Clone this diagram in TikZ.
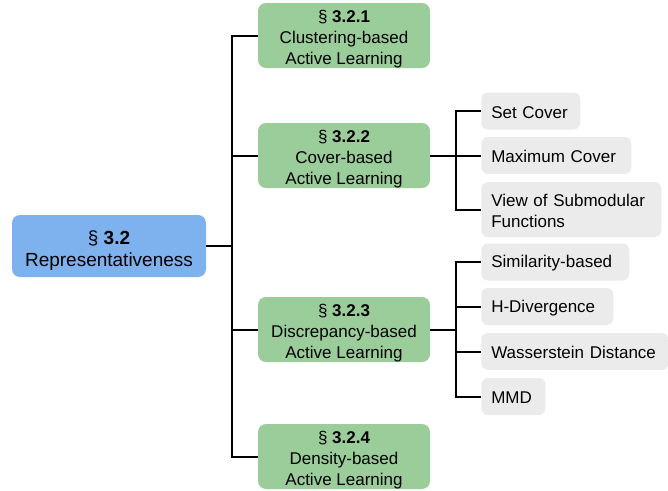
\documentclass[tikz,border=0pt]{standalone}
\usepackage{fontspec}
\setmainfont{Liberation Sans}
\definecolor{rootblue}{RGB}{126,178,238}
\definecolor{secgreen}{RGB}{154,205,154}
\definecolor{leafgray}{RGB}{235,235,235}
\newcommand{\gstrut}{\rule{0pt}{14pt}}
\newcommand{\rstrut}{\rule{0pt}{16.5pt}}
\newcommand{\lstrut}{\rule{0pt}{11pt}}
\begin{document}
\begin{tikzpicture}[x=0.75pt,y=-0.75pt,
  rootbox/.style={fill=rootblue, rounded corners=6pt, minimum width=145.5pt, minimum height=46.5pt,
    inner sep=0pt, align=center, font=\fontsize{14.25pt}{16.5pt}\selectfont},
  secbox/.style={fill=secgreen, rounded corners=6pt, minimum width=129pt, minimum height=48.75pt,
    inner sep=0pt, align=center, font=\fontsize{12.75pt}{15.75pt}\selectfont},
  leafbox/.style={fill=leafgray, rounded corners=5pt, anchor=west, minimum height=27.75pt,
    inner xsep=7.5pt, inner ysep=0pt, align=left, font=\fontsize{12.75pt}{15.75pt}\selectfont},
  conn/.style={draw=black, line width=1.5pt}
]
\useasboundingbox (0,0) rectangle (668,490);

\node[rootbox] (root) at (109,246) {\rstrut§ \textbf{3.2}\\Representativeness};

\node[secbox] (s1) at (344,35.5) {\gstrut§ \textbf{3.2.1}\\Clustering-based\\Active Learning};
\node[secbox] (s2) at (344,155.5) {\gstrut§ \textbf{3.2.2}\\Cover-based\\Active Learning};
\node[secbox] (s3) at (344,329.5) {\gstrut§ \textbf{3.2.3}\\Discrepancy-based\\Active Learning};
\node[secbox] (s4) at (344,456.5) {\gstrut§ \textbf{3.2.4}\\Density-based\\Active Learning};

\node[leafbox, text width=59.25pt] (l1) at (481,111) {\lstrut Set Cover};
\node[leafbox, text width=97.5pt] (l2) at (481,155.5) {\lstrut Maximum Cover};
\node[leafbox, text width=120pt, minimum height=41.25pt] (l3) at (481,209.5) {\lstrut View of Submodular\\Functions};

\node[leafbox, text width=96pt] (m1) at (481,262) {\lstrut Similarity-based};
\node[leafbox, text width=84pt] (m2) at (481,306.5) {\lstrut H-Divergence};
\node[leafbox, text width=125.25pt] (m3) at (481,351.5) {\lstrut Wasserstein Distance};
\node[leafbox, text width=33pt] (m4) at (481,396.5) {\lstrut MMD};

\coordinate (t0) at (232,246);
\coordinate (ta) at (456,155.5);
\coordinate (tb) at (456,329.5);

% main trunk
\draw[conn] (root.east) -- (t0);
\draw[conn] (s1.west) -| (t0);
\draw[conn] (s4.west) -| (t0);
\draw[conn] (s2.west) -- (s2.west -| t0);
\draw[conn] (s3.west) -- (s3.west -| t0);

% cover group
\draw[conn] (s2.east) -- (ta);
\draw[conn] (l1.west) -| (ta);
\draw[conn] (l3.west) -| (ta);
\draw[conn] (l2.west) -- (ta);

% discrepancy group
\draw[conn] (s3.east) -- (tb);
\draw[conn] (m1.west) -| (tb);
\draw[conn] (m4.west) -| (tb);
\draw[conn] (m2.west) -- (m2.west -| tb);
\draw[conn] (m3.west) -- (m3.west -| tb);
\end{tikzpicture}
\end{document}
